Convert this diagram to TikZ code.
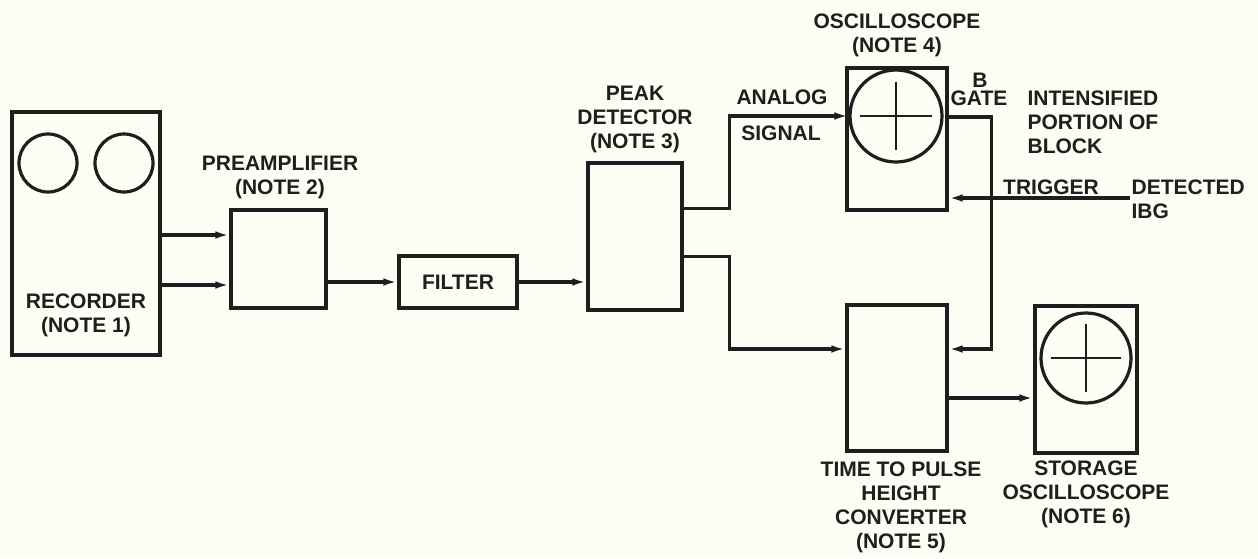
\documentclass[tikz,border=0pt]{standalone}
\usepackage{fontspec}
\setmainfont{Liberation Sans}
\usetikzlibrary{arrows.meta,calc,positioning}
\definecolor{paper}{HTML}{FEFDF4}
\definecolor{ink}{HTML}{1E1E1E}

\begin{document}
\begin{tikzpicture}[>={Latex[length=7pt,width=3.8pt]}, x=0.5pt, y=-0.5pt,
  color=ink, line width=1.6pt,
  unit/.style={rectangle,draw,inner sep=0pt},
  screen/.style={circle,draw,inner sep=0pt},
  lbl/.style={font=\fontsize{10.5pt}{12pt}\selectfont\bfseries,align=center,inner sep=0pt}]
  \fill[paper] (0,0) rectangle (1258,558);
  \useasboundingbox (0,0) rectangle (1258,558);

  \node[unit,minimum width=74pt,minimum height=121.5pt] (rec) at (86,233.5) {};
  \node[screen,minimum size=29pt] (reel1) at (48,163) {};
  \node[screen,minimum size=29pt] (reel2) at (124,163) {};
  \node[lbl] (reclbl) at (86,315) {RECORDER\\(NOTE 1)};

  \node[unit,minimum width=47.5pt,minimum height=49pt] (pre) at (278.5,259) {};
  \node[lbl] (prelbl) at (280,177) {PREAMPLIFIER\\(NOTE 2)};

  \node[unit,lbl,minimum width=59pt,minimum height=26pt] (filt) at (458,282) {FILTER};

  \node[unit,minimum width=47pt,minimum height=73.5pt] (pk) at (635,236.5) {};
  \node[lbl] (pklbl) at (635,119) {PEAK\\DETECTOR\\(NOTE 3)};

  \node[unit,minimum width=50pt,minimum height=71pt] (osc) at (897,139) {};
  \node[screen,minimum size=46pt] (oscscr) at (896,116) {};
  \node[lbl] (osclbl) at (897,35) {OSCILLOSCOPE\\(NOTE 4)};

  \node[unit,minimum width=50pt,minimum height=73pt] (tph) at (897,378) {};
  \node[lbl] (tphlbl) at (901,507) {TIME TO PULSE\\HEIGHT\\CONVERTER\\(NOTE 5)};

  \node[unit,minimum width=51pt,minimum height=73.5pt] (sto) at (1086,379.5) {};
  \node[screen,minimum size=45pt] (stoscr) at (1086,358) {};
  \node[lbl] (stolbl) at (1086,494) {STORAGE\\OSCILLOSCOPE\\(NOTE 6)};

  \node[lbl] (analog) at (782,97) {ANALOG};
  \node[lbl] (signal) at (781,133) {SIGNAL};
  \node[lbl] (blbl) at (980,80) {B};
  \node[lbl] (gatelbl) at (979,98) {GATE};
  \node[lbl,align=left,anchor=west] (intens) at (1026,122) {INTENSIFIED\\PORTION OF\\BLOCK};
  \node[lbl] (trig) at (1051,187) {TRIGGER};
  \node[lbl,align=left,anchor=west] (ibg) at (1130,199) {DETECTED\\IBG};

  \draw[line width=1.2pt] ($(oscscr.center)!0.75!(oscscr.west)$) -- ($(oscscr.center)!0.75!(oscscr.east)$);
  \draw[line width=1.2pt] ($(oscscr.center)!0.72!(oscscr.north)$) -- ($(oscscr.center)!0.72!(oscscr.south)$);
  \draw[line width=1.2pt] ($(stoscr.center)!0.75!(stoscr.west)$) -- ($(stoscr.center)!0.75!(stoscr.east)$);
  \draw[line width=1.2pt] ($(stoscr.center)!0.72!(stoscr.north)$) -- ($(stoscr.center)!0.72!(stoscr.south)$);

  \coordinate (in1) at ([yshift=12pt]pre.west);
  \coordinate (in2) at ([yshift=-13pt]pre.west);
  \coordinate (pkout1) at ([yshift=14pt]pk.east);
  \coordinate (pkout2) at ([yshift=-10pt]pk.east);
  \coordinate (ibgin) at (1130,198);

  \draw[->] (in1 -| rec.east) -- (in1);
  \draw[->] (in2 -| rec.east) -- (in2);
  \draw[->] (filt.west -| pre.east) -- (filt.west);
  \draw[->] (filt.east) -- (filt.east -| pk.west);
  \draw[->] (pkout1) -- ++(46,0) |- (oscscr.west);
  \draw[->] (pkout2) -- ++(46,0) |- ([yshift=14.5pt]tph.west);
  \draw[->] ([yshift=11pt]osc.east) -- ++(43,0) |- ([yshift=14.5pt]tph.east);
  \draw[->] (ibgin) -- (ibgin -| osc.east);
  \draw[->] ([yshift=-10pt]tph.east) -- ([yshift=-10pt]tph.east -| sto.west);
\end{tikzpicture}
\end{document}
